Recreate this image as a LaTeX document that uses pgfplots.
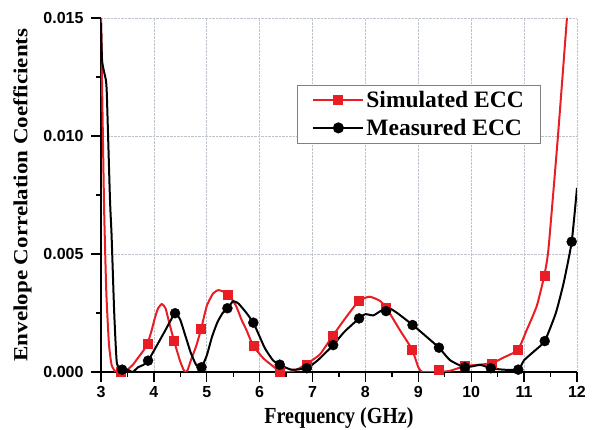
\documentclass[border=0pt]{standalone}
\usepackage{fontspec}
\setmainfont{Liberation Serif}
\setsansfont{Liberation Sans}
\usepackage{pgfplots}
\pgfplotsset{compat=1.18}
\definecolor{simred}{RGB}{232,30,36}
\definecolor{gridgray}{RGB}{190,195,205}
\begin{document}
\begin{tikzpicture}
\useasboundingbox (-101pt,-58pt) rectangle (491pt,372pt);
\begin{axis}[
  scale only axis, width=476pt, height=354pt,
  xmin=3, xmax=12, ymin=0, ymax=0.015,
  axis x line=bottom, axis y line=left,
  axis line style={line width=1.3pt,-},
  xtick={3,4,...,12}, ytick={0,0.005,0.010,0.015},
  minor x tick num=1, minor y tick num=1,
  tick align=outside,
  major tick length=10pt, minor tick length=5pt,
  every tick/.style={line width=1.3pt,black},
  grid=major,
  major grid style={densely dotted, gridgray, line width=0.6pt},
  scaled y ticks=false,
  yticklabel style={/pgf/number format/fixed, /pgf/number format/fixed zerofill, /pgf/number format/precision=3, xshift=-4pt},
  xticklabel style={yshift=-1pt},
  /pgf/number format/assume math mode=true,
  tick label style={font=\fontsize{16}{16}\selectfont\sffamily\bfseries},
  xlabel={\scalebox{1}[1.15]{Frequency (GHz)}},
  ylabel={\scalebox{1.15}[1]{Envelope Correlation Coefficients}},
  xlabel style={yshift=-3pt},
  ylabel style={yshift=5pt},
  label style={font=\fontsize{20}{20}\selectfont\bfseries},
  clip=true,
  legend style={at={(rel axis cs:0.412,0.811)}, anchor=north west, draw=gray, line width=0.6pt,
    font=\fontsize{23.5}{28}\selectfont\bfseries, inner xsep=15pt, inner ysep=4pt, row sep=6pt},
  legend cell align=left,
  legend image code/.code={\draw[mark repeat=2,mark phase=2,#1] plot coordinates {(0pt,0pt)(25pt,0pt)(50pt,0pt)};},
]
% Simulated line
\addplot[simred, line width=2pt, smooth, tension=0.3, forget plot] coordinates {
(3.00,0.0150)(3.03,0.0108)(3.06,0.0068)(3.10,0.0034)(3.15,0.0012)(3.20,0.0003)(3.28,0.0000)
(3.40,0.0000)(3.50,0.0001)(3.60,0.0003)(3.70,0.0006)(3.80,0.0009)(3.88,0.00122)(3.95,0.0017)
(4.02,0.0023)(4.08,0.0027)(4.15,0.00288)(4.22,0.0027)(4.30,0.0020)(4.38,0.00133)(4.49,0.0005)
(4.56,0.0001)(4.60,0.0000)(4.64,0.0001)(4.70,0.0005)(4.80,0.0011)(4.89,0.0018)(5.00,0.0028)(5.12,0.00333)(5.22,0.00347)
(5.32,0.0034)(5.39,0.0033)(5.47,0.0031)(5.56,0.00277)(5.66,0.0022)(5.75,0.00178)(5.88,0.0011)
(6.07,0.00058)(6.26,0.00023)(6.40,0.0000)(6.55,0.0000)(6.70,0.0001)(6.88,0.00033)(7.14,0.00075)(7.38,0.00153)
(7.64,0.00234)(7.88,0.00302)(8.08,0.00319)(8.27,0.00302)(8.39,0.00274)(8.65,0.00178)(8.88,0.00096)
(9.00,0.0002)(9.08,0.0000)(9.38,0.0000)(9.60,0.00005)(9.88,0.00025)(10.10,0.0003)(10.39,0.00037)
(10.60,0.0006)(10.88,0.00093)(11.05,0.00178)(11.24,0.0028)(11.38,0.00407)(11.46,0.0052)
(11.64,0.0100)(11.81,0.0150)
};
% Measured line
\addplot[black, line width=2pt, smooth, tension=0.3, forget plot] coordinates {
(3.00,0.0148)(3.02,0.0132)(3.06,0.0127)(3.09,0.0124)(3.11,0.0118)(3.17,0.0073)(3.20,0.0058)
(3.25,0.0025)(3.30,0.00037)(3.40,0.0001)(3.50,0.0001)(3.60,0.0000)(3.70,0.0002)(3.80,0.0003)
(3.89,0.00048)(4.00,0.0009)(4.20,0.0017)(4.40,0.00249)(4.50,0.0022)(4.60,0.0015)(4.70,0.0008)
(4.80,0.0003)(4.90,0.0002)(5.00,0.0007)(5.10,0.0015)(5.20,0.0021)(5.30,0.0025)(5.39,0.0027)
(5.50,0.0030)(5.60,0.0029)(5.75,0.0025)(5.88,0.00209)(6.00,0.0015)(6.10,0.0010)(6.25,0.0005)
(6.38,0.0003)(6.60,0.0001)(6.89,0.00016)(7.10,0.0005)(7.39,0.00114)(7.60,0.0017)(7.88,0.00227)
(8.00,0.00245)(8.15,0.0024)(8.30,0.0026)(8.45,0.0027)(8.60,0.0025)(8.89,0.0020)(9.10,0.0016)
(9.39,0.00103)(9.60,0.0005)(9.88,0.0002)(10.17,0.0003)(10.37,0.00016)(10.60,0.0001)(10.89,0.0001)
(11.00,0.0005)(11.20,0.0009)(11.39,0.00131)(11.60,0.0025)(11.75,0.0038)(11.90,0.00552)(12.00,0.0078)
};
% markers
\addplot[simred, only marks, mark=square*, mark size=4.5pt, forget plot] coordinates {
(3.38,0.0000)(3.88,0.00122)(4.38,0.00133)(4.89,0.00182)(5.39,0.00329)(5.88,0.00111)(6.38,0.0000)
(6.88,0.00033)(7.38,0.00153)(7.88,0.00302)(8.39,0.00274)(8.88,0.00096)(9.38,0.0001)(9.88,0.00025)
(10.39,0.00037)(10.88,0.00093)(11.38,0.00407)
};
\addplot[black, only marks, mark=*, mark size=5pt, forget plot] coordinates {
(3.40,0.0001)(3.89,0.00048)(4.40,0.00249)(4.90,0.0002)(5.39,0.0027)(5.88,0.00209)(6.38,0.00031)
(6.89,0.00016)(7.39,0.00114)(7.88,0.00227)(8.39,0.00258)(8.89,0.00199)(9.39,0.00103)(9.88,0.0002)
(10.37,0.00016)(10.89,0.0001)(11.39,0.00131)(11.90,0.00552)
};
\addlegendimage{simred, line width=2pt, mark=square*, mark size=4pt}
\addlegendimage{black, line width=2pt, mark=*, mark size=4.5pt}
\legend{Simulated ECC, Measured ECC}
\end{axis}
\end{tikzpicture}
\end{document}
